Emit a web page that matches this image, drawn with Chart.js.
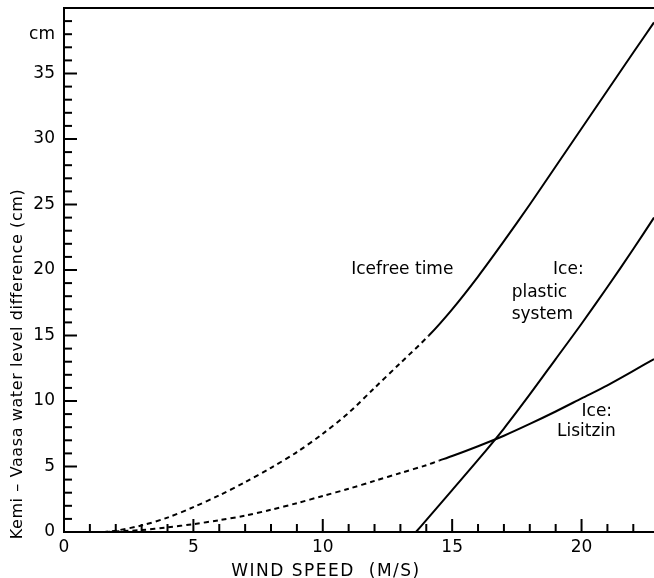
<!DOCTYPE html>
<html>
<head>
<meta charset="utf-8">
<script src="https://cdn.jsdelivr.net/npm/chart.js@4"></script>
<style>
  body { margin: 0; background: #fff; }
  #caja { width: 654px; height: 578px; }
</style>
</head>
<body>
<div id="caja"><canvas id="plot"></canvas></div>
<script>
// Icefree time (dashed until 14.1 m/s)
let icefreeX = [1.5, 2, 3, 4, 5, 6, 7, 8, 9, 10, 11, 12, 13, 14.1, 15, 16, 17, 18, 19, 20, 21, 22, 22.8]
let icefreeY = [0, 0.1, 0.5, 1.1, 1.9, 2.8, 3.8, 4.9, 6.1, 7.5, 9.1, 11.0, 12.9, 15.0, 17.0, 19.5, 22.2, 25.0, 27.9, 30.8, 33.7, 36.6, 38.9]

// Ice: plastic system
let plasticX = [13.6, 14, 15, 16, 17, 18, 19, 20, 21, 22, 22.8]
let plasticY = [0, 0.9, 3.2, 5.5, 7.9, 10.5, 13.2, 15.9, 18.7, 21.6, 24.0]

// Ice: Lisitzin (dashed until 14.5 m/s)
let lisitzinX = [1.6, 3, 4, 5, 6, 7, 8, 9, 10, 11, 12, 13, 14, 14.5, 15, 16, 17, 18, 19, 20, 21, 22, 22.8]
let lisitzinY = [0, 0.15, 0.35, 0.6, 0.9, 1.25, 1.7, 2.2, 2.75, 3.3, 3.9, 4.5, 5.1, 5.45, 5.8, 6.55, 7.35, 8.25, 9.2, 10.2, 11.2, 12.3, 13.2]

let yTickLabels = {0: '0', 5: '5', 10: '10', 15: '15', 20: '20', 25: '25', 30: '30', 35: '35', 38: 'cm'}
let xTickLabels = {0: '0', 5: '5', 10: '10', 15: '15', 20: '20'}

// textos dentro del grafico (en unidades de datos)
let etiquetas = [
  {text: 'Icefree time', x: 11.1, y: 20.0},
  {text: 'Ice:', x: 18.9, y: 20.0},
  {text: 'plastic', x: 17.3, y: 18.3},
  {text: 'system', x: 17.3, y: 16.6},
  {text: 'Ice:', x: 20.0, y: 9.2},
  {text: 'Lisitzin', x: 19.05, y: 7.7}
]

let toPoints = (xs, ys) => xs.map((x, i) => ({x: x, y: ys[i]}))
let dashUntil = (limit) => ({ borderDash: ctx => ctx.p0.parsed.x < limit ? [5, 4] : undefined })

let fuente = '"DejaVu Sans", sans-serif'

let dibujoExtra = {
  id: 'dibujoExtra',
  afterDraw(chart) {
    let {ctx, chartArea, scales} = chart
    let x = scales.x, y = scales.y
    ctx.save()
    ctx.strokeStyle = '#000'
    ctx.lineWidth = 2
    // marcas hacia adentro
    for (let v = 1; v <= 22; v++) {
      let px = x.getPixelForValue(v)
      let len = v % 5 === 0 ? 13 : 8
      ctx.beginPath(); ctx.moveTo(px, chartArea.bottom); ctx.lineTo(px, chartArea.bottom - len); ctx.stroke()
    }
    for (let v = 1; v <= 39; v++) {
      let py = y.getPixelForValue(v)
      let len = v % 5 === 0 ? 13 : 8
      ctx.beginPath(); ctx.moveTo(chartArea.left, py); ctx.lineTo(chartArea.left + len, py); ctx.stroke()
    }
    // borde superior
    ctx.beginPath(); ctx.moveTo(chartArea.left - 1, chartArea.top); ctx.lineTo(chartArea.right, chartArea.top); ctx.stroke()

    ctx.fillStyle = '#000'
    ctx.font = '17px ' + fuente
    ctx.textBaseline = 'middle'
    ctx.textAlign = 'left'
    etiquetas.forEach(e => {
      ctx.fillText(e.text, x.getPixelForValue(e.x), y.getPixelForValue(e.y))
    })

    // titulos de ejes
    ctx.textAlign = 'center'
    ctx.letterSpacing = '1.5px'
    ctx.fillText('WIND SPEED  (M/S)', 326, 572)
    ctx.font = '16px ' + fuente
    ctx.letterSpacing = '0.6px'
    ctx.translate(18, 364)
    ctx.rotate(-Math.PI / 2)
    ctx.fillText('Kemi – Vaasa water level difference (cm)', 0, 0)
    ctx.restore()
  }
}

let lineStyle = {borderColor: '#000', borderWidth: 2, pointRadius: 0, fill: false, tension: 0.3}

let config = {
  type: 'line',
  data: {
    datasets: [
      Object.assign({label: 'Icefree time', data: toPoints(icefreeX, icefreeY), segment: dashUntil(14.1)}, lineStyle),
      Object.assign({label: 'Ice: plastic system', data: toPoints(plasticX, plasticY)}, lineStyle),
      Object.assign({label: 'Ice: Lisitzin', data: toPoints(lisitzinX, lisitzinY), segment: dashUntil(14.5)}, lineStyle)
    ]
  },
  options: {
    responsive: true,
    maintainAspectRatio: false,
    animation: false,
    layout: {padding: {top: 8, right: 0, left: 0, bottom: 0}},
    plugins: {legend: {display: false}, tooltip: {enabled: false}},
    scales: {
      x: {
        type: 'linear', min: 0, max: 22.8,
        grid: {display: false, drawTicks: false},
        border: {display: true, color: '#000', width: 2},
        afterFit: s => { s.height = 46; s.paddingLeft = 0; s.paddingRight = 0 },
        ticks: {
          stepSize: 1, autoSkip: false, maxRotation: 0, padding: 5, color: '#000',
          font: {family: fuente, size: 17},
          callback: v => xTickLabels[v] || null
        }
      },
      y: {
        type: 'linear', min: 0, max: 40,
        grid: {display: false, drawTicks: false},
        border: {display: true, color: '#000', width: 2},
        afterFit: s => { s.width = 64; s.paddingTop = 0; s.paddingBottom = 0 },
        ticks: {
          stepSize: 1, autoSkip: false, padding: 9, color: '#000',
          font: {family: fuente, size: 17},
          callback: v => yTickLabels[v] || null
        }
      }
    }
  },
  plugins: [dibujoExtra]
}

let chart1 = new Chart(document.getElementById('plot'), config)
</script>
</body>
</html>
